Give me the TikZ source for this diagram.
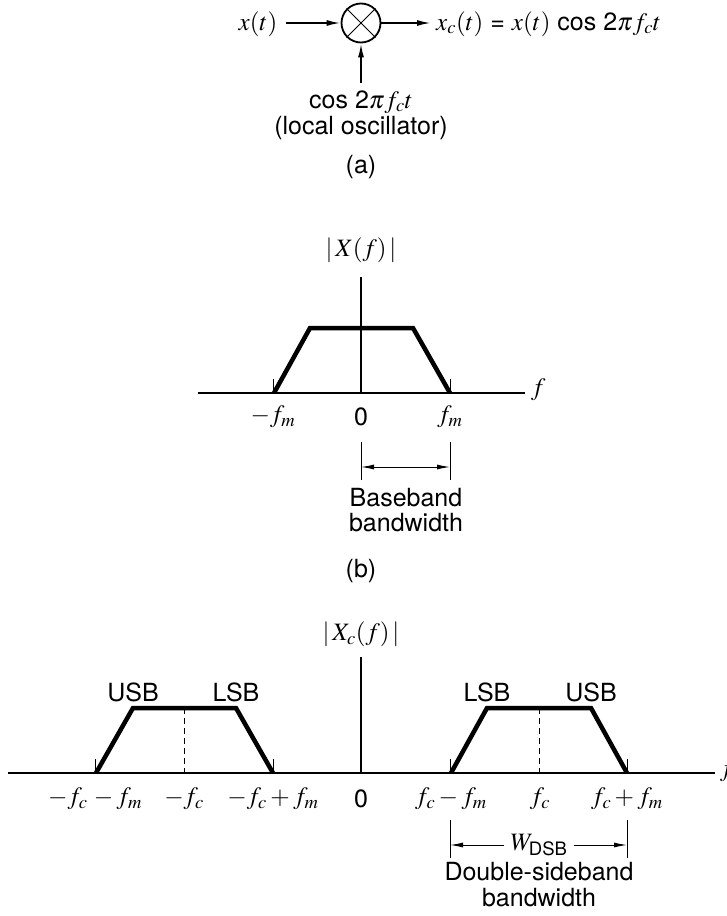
\documentclass[tikz,border=0pt]{standalone}
\usepackage{amsmath}
\usepackage{mathptmx}
\usepackage{fontspec}
\setmainfont{TeX Gyre Heros}
\usetikzlibrary{arrows.meta}
\begin{document}
\begin{tikzpicture}[x=1pt,y=-1pt,
  lab/.style={font=\fontsize{25}{28}\selectfont, inner sep=0pt},
  axisline/.style={line width=1.8pt},
  curve/.style={line width=4.5pt, line join=miter},
  thinline/.style={line width=1pt},
  dashline/.style={line width=1pt, dash pattern=on 6pt off 4pt},
  arr/.style={-{Latex[length=14pt,width=6pt]}, line width=1.8pt},
  dimarr/.style={line width=1pt, {Latex[length=13pt,width=5pt]}-{Latex[length=13pt,width=5pt]}},
  onearr/.style={line width=1pt, -{Latex[length=13pt,width=5pt]}},
]
\useasboundingbox (0,0) rectangle (726,916);

% ---------------- (a)
\node[lab, anchor=base] (xin) at (258,30) {$x(t)$};
\node[circle, draw, line width=1.8pt, minimum size=39pt, inner sep=0pt] (mix) at (361,23) {};
\draw[thinline] (mix.north west) -- (mix.south east);
\draw[thinline] (mix.north east) -- (mix.south west);
\node[lab, anchor=base west] (xout) at (436,30) {$x_c(t)$ = $x(t)$ cos 2$\pi f_c t$};
\draw[arr] ([xshift=8pt]xin.east |- mix.center) -- (mix.west);
\draw[arr] (mix.east) -- ([xshift=-5pt]xout.west |- mix.center);
\node[lab, anchor=base] (osc) at (361,108) {cos 2$\pi f_c t$};
\node[lab, anchor=base] (osc2) at (361,134) {(local oscillator)};
\draw[arr] ([yshift=7pt]osc.north) -- (mix.south);
\node[lab] (la) at (361,167) {(a)};

% ---------------- (b)
\draw[axisline] (198,393) -- (525,393);
\node[lab, anchor=west] (fb) at (531,390) {$f$};
\draw[axisline] (361,277) -- (361,393);
\node[lab] (Xf) at (361,250) {$|\,X(f)\,|$};
\draw[thinline] (273,379) -- (273,393);
\draw[thinline] (450,379) -- (450,393);
\draw[curve] (274,393) -- (310,328) -- (413,328) -- (450,393);
\node[lab] (bm) at (273,417) {$-f_m$};
\node[lab] (b0) at (361,417) {0};
\node[lab] (bp) at (450,417) {$f_m$};
\draw[thinline] (361,442) -- (361,480);
\draw[thinline] (450,442) -- (450,480);
\draw[dimarr] (361,467) -- (450,467);
\node[lab, anchor=base] (bb1) at (406,506) {Baseband};
\node[lab, anchor=base] (bb2) at (406,531) {bandwidth};
\node[lab] (lb) at (361,571) {(b)};

% ---------------- (c)
\draw[axisline] (8,773) -- (715,773);
\node[lab, anchor=west] (fc) at (720,771) {$f$};
\draw[axisline] (361,657) -- (361,773);
\node[lab] (Xcf) at (361,634) {$|\,X_c(f)\,|$};
% left band
\draw[thinline] (95,759) -- (95,773);
\draw[thinline] (273,759) -- (273,773);
\draw[dashline] (184,708) -- (184,773);
\draw[curve] (96,773) -- (133,708) -- (236,708) -- (273,773);
\node[lab] (u1) at (133,692) {USB};
\node[lab] (l1) at (236,692) {LSB};
% right band
\draw[thinline] (450,759) -- (450,773);
\draw[thinline] (627,759) -- (627,773);
\draw[dashline] (539,708) -- (539,773);
\draw[curve] (451,773) -- (487,708) -- (591,708) -- (627,773);
\node[lab] (l2) at (487,692) {LSB};
\node[lab] (u2) at (591,692) {USB};
% tick labels
\node[lab] (t1) at (95,799) {$-f_c\,-f_m$};
\node[lab] (t2) at (184,799) {$-f_c$};
\node[lab] (t3) at (273,799) {$-f_c+f_m$};
\node[lab] (t4) at (361,799) {0};
\node[lab] (t5) at (451,799) {$f_c-f_m$};
\node[lab] (t6) at (540,799) {$f_c$};
\node[lab] (t7) at (627,799) {$f_c+f_m$};
% bandwidth
\draw[thinline] (450,820) -- (450,858);
\draw[thinline] (627,820) -- (627,858);
\node[lab, fill=white, inner xsep=6pt] (wd) at (539,845) {$W_{\text{DSB}}$};
\coordinate (wl) at (450,845);
\coordinate (wr) at (627,845);
\draw[onearr] (wd.west) -- (wl);
\draw[onearr] (wd.east) -- (wr);
\node[lab, anchor=base] (ds1) at (539,880) {Double-sideband};
\node[lab, anchor=base] (ds2) at (539,906) {bandwidth};
\end{tikzpicture}
\end{document}
